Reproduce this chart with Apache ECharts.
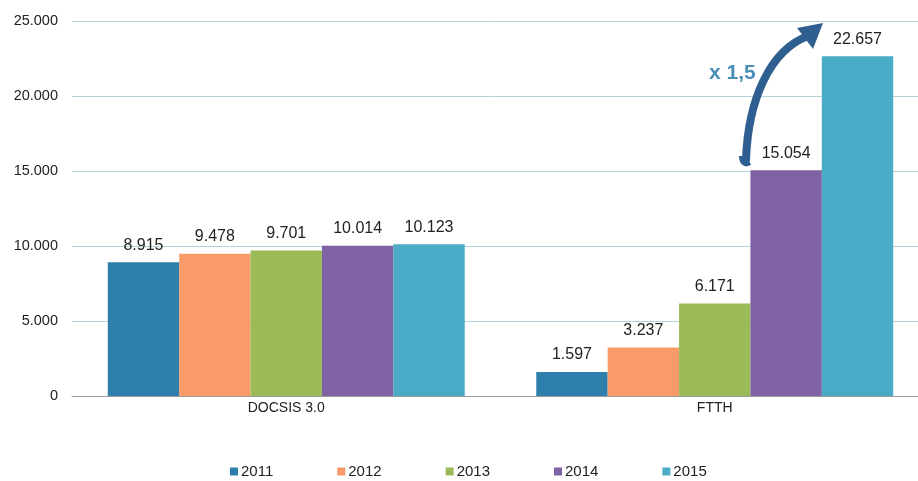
<!DOCTYPE html>
<html>
<head>
<meta charset="utf-8">
<script src="https://cdn.jsdelivr.net/npm/echarts@6/dist/echarts.min.js"></script>
<style>
  html, body { margin: 0; padding: 0; background: #fff; }
  #chart { width: 918px; height: 481px; }
</style>
</head>
<body>
<div id="chart"></div>
<script>
// data
const categories = ['DOCSIS 3.0', 'FTTH'];
const years = ['2011', '2012', '2013', '2014', '2015'];
const v2011 = [8915, 1597];
const v2012 = [9478, 3237];
const v2013 = [9701, 6171];
const v2014 = [10014, 15054];
const v2015 = [10123, 22657];
const yTicks = [0, 5000, 10000, 15000, 20000, 25000];

const colors = ['#2e7fab', '#f89b68', '#9bbb59', '#7f62a3', '#4aabc6'];

// 8915 -> "8.915"
function fmt(v) {
  return String(v).replace(/\B(?=(\d{3})+(?!\d))/g, '.');
}

const chart = echarts.init(document.getElementById('chart'));
const allValues = [v2011, v2012, v2013, v2014, v2015];

chart.setOption({
  animation: false,
  color: colors,
  textStyle: { fontFamily: 'Liberation Sans, Arial, sans-serif' },
  legend: {
    data: years,
    top: 459,
    left: 225,
    itemWidth: 8,
    itemHeight: 8,
    itemGap: 64,
    icon: 'rect',
    textStyle: { fontSize: 15, color: '#222', padding: [0, 0, 0, -2] }
  },
  grid: { left: 72, top: 21, width: 857, height: 375, outerBoundsMode: 'none' },
  xAxis: {
    type: 'category',
    data: categories,
    axisLine: { lineStyle: { color: '#9a9a9a', width: 1 } },
    axisTick: { show: false },
    axisLabel: { color: '#222', fontSize: 14, margin: 5 }
  },
  yAxis: {
    type: 'value',
    min: yTicks[0],
    max: yTicks[yTicks.length - 1],
    interval: 5000,
    axisLine: { show: false },
    axisTick: { show: false },
    splitLine: { lineStyle: { color: '#b3d2da', width: 1 } },
    axisLabel: { color: '#222', fontSize: 14.5, margin: 14, formatter: fmt }
  },
  series: years.map((y, i) => ({
    name: y,
    type: 'bar',
    data: allValues[i],
    barGap: '0%',
    barCategoryGap: '16.7%',
    label: {
      show: true,
      position: 'top',
      distance: 9,
      color: '#222',
      fontSize: 16,
      formatter: p => fmt(p.value)
    }
  })),
  graphic: [
    {
      type: 'bezierCurve',
      z: 100,
      shape: { x1: 746, y1: 160, cpx1: 748, cpy1: 100, cpx2: 770, cpy2: 50, x2: 808, y2: 36 },
      style: { stroke: '#2f5f90', lineWidth: 8, fill: null, lineCap: 'round' }
    },
    {
      type: 'bezierCurve',
      z: 100,
      shape: { x1: 741, y1: 156, cpx1: 741, cpy1: 164, cpx2: 746, cpy2: 166, x2: 750, y2: 163 },
      style: { stroke: '#2f5f90', lineWidth: 4, fill: null }
    },
    {
      type: 'polygon',
      z: 100,
      shape: { points: [[823, 23], [797, 28], [813, 49]] },
      style: { fill: '#2f5f90' }
    },
    {
      type: 'text',
      z: 101,
      left: 709,
      top: 63,
      style: {
        text: 'x 1,5',
        fill: '#4a8fb8',
        font: 'bold 21px Liberation Sans, Arial, sans-serif'
      }
    }
  ]
});
</script>
</body>
</html>
